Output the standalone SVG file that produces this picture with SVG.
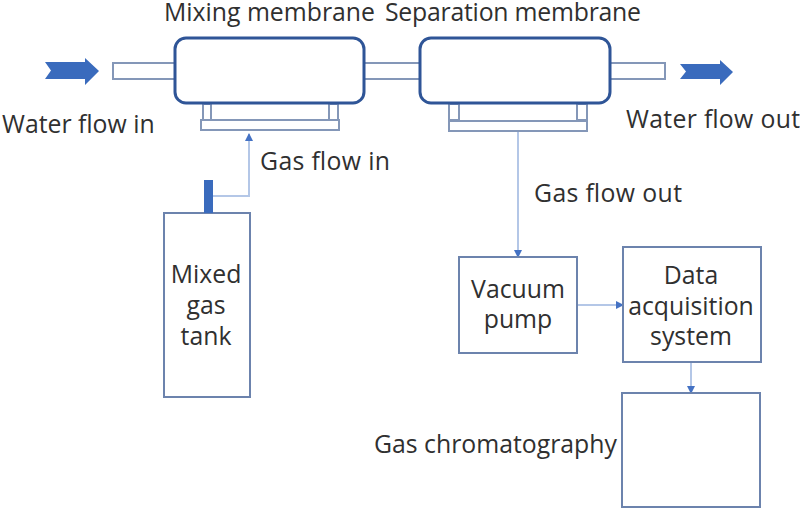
<svg xmlns="http://www.w3.org/2000/svg" width="800" height="514" viewBox="0 0 800 514">
<style>
text{font-family:"Open Sans","Noto Sans","Liberation Sans",sans-serif;font-size:24.8px;fill:#303030}
.m{text-anchor:middle}
.shell{fill:#fff;stroke:#2f5597;stroke-width:3}
.part{fill:#fff;stroke:#8497b8;stroke-width:2}
.box{fill:#fff;stroke:#6c83ad;stroke-width:2}
.flow{fill:#3a6bbd}
.conn{fill:none;stroke:#b4c7e7;stroke-width:2}
</style>
<defs>
<marker id="ah" markerWidth="10" markerHeight="10" refX="7" refY="4" orient="auto" markerUnits="userSpaceOnUse"><path d="M0 0L8 4L0 8Z" fill="#4472c4"/></marker>
</defs>
<rect width="800" height="514" fill="#fff"/>
<g id="connectors">
<path class="conn" d="M213 196H249V134" marker-end="url(#ah)"/>
<path class="conn" d="M518 131V257" marker-end="url(#ah)"/>
<path class="conn" d="M577 305H623" marker-end="url(#ah)"/>
<path class="conn" d="M691 362V393" marker-end="url(#ah)"/>
</g>
<g id="water-in">
<path class="flow" d="M45 62H85V58L99 71L85 85V79H45L51 70.500Z"/>
<text x="2" y="133">Water flow in</text>
</g>
<g id="pipe-in"><rect class="part" x="113" y="63" width="63" height="16"/></g>
<g id="pipe-mid"><rect class="part" x="364" y="63" width="57" height="16"/></g>
<g id="pipe-out"><rect class="part" x="610" y="63" width="55" height="16"/></g>
<g id="mixing-membrane">
<rect class="part" x="203" y="104" width="8" height="16"/>
<rect class="part" x="329" y="104" width="9" height="16"/>
<rect class="part" x="201" y="120" width="138" height="10"/>
<rect class="shell" x="175" y="38" width="189" height="65" rx="11"/>
<text x="164" y="21">Mixing membrane</text>
</g>
<g id="separation-membrane">
<rect class="part" x="449" y="104" width="10" height="16"/>
<rect class="part" x="577" y="104" width="10" height="16"/>
<rect class="part" x="449" y="121" width="138" height="10"/>
<rect class="shell" x="420" y="38" width="190" height="65" rx="11"/>
<text x="385" y="21" textLength="256">Separation membrane</text>
</g>
<g id="water-out">
<path class="flow" d="M680 64H720V60L733 72L720 85V79H680L686 71.500Z"/>
<text x="626" y="128" textLength="174">Water flow out</text>
</g>
<g id="gas-in-label"><text x="260" y="170" textLength="130">Gas flow in</text></g>
<g id="gas-out-label"><text x="534" y="202" textLength="148">Gas flow out</text></g>
<g id="tank">
<rect class="box" x="164" y="213" width="86" height="184"/>
<rect x="204" y="180" width="9" height="33" fill="#3a6bbd"/>
<text class="m" x="206" y="283">Mixed</text>
<text class="m" x="206" y="314">gas</text>
<text class="m" x="206" y="345">tank</text>
</g>
<g id="vacuum-pump">
<rect class="box" x="459" y="257" width="118" height="96"/>
<text class="m" x="518" y="298">Vacuum</text>
<text class="m" x="518" y="328">pump</text>
</g>
<g id="data-system">
<rect class="box" x="623" y="247" width="138" height="115"/>
<text class="m" x="691" y="284">Data</text>
<text class="m" x="691" y="315">acquisition</text>
<text class="m" x="691" y="345">system</text>
</g>
<g id="gas-chromatography">
<rect class="box" x="622" y="393" width="138" height="114"/>
<text x="374" y="453">Gas chromatography</text>
</g>
</svg>
